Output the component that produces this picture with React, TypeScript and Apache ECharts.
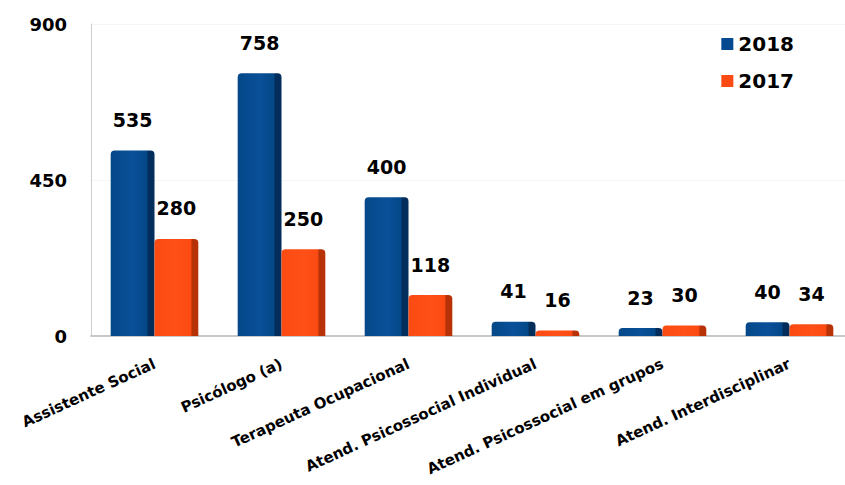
import React, { useEffect, useRef } from "react";
import * as echarts from "echarts";

const categories = [
  "Assistente Social",
  "Psicólogo (a)",
  "Terapeuta Ocupacional",
  "Atend. Psicossocial Individual",
  "Atend. Psicossocial em grupos",
  "Atend. Interdisciplinar",
];
const values2018 = [535, 758, 400, 41, 23, 40];
const values2017 = [280, 250, 118, 16, 30, 34];
const yTicks = [0, 450, 900];

const FONT = "'DejaVu Sans', Verdana, sans-serif";

function barGradient(light: string, mid: string, dark: string) {
  return new echarts.graphic.LinearGradient(0, 0, 1, 0, [
    { offset: 0, color: mid },
    { offset: 0.5, color: light },
    { offset: 0.82, color: mid },
    { offset: 0.86, color: dark },
    { offset: 1, color: dark },
  ]);
}

export default function App() {
  const ref = useRef<HTMLDivElement>(null);
  useEffect(() => {
    if (!ref.current) return;
    const chart = echarts.init(ref.current, undefined, { renderer: "svg" });
    const label = {
      show: true,
      position: "top" as const,
      distance: 21,
      color: "#000",
      fontFamily: FONT,
      fontWeight: "bold" as const,
      fontSize: 19,
    };
    chart.setOption({
      animation: false,
      backgroundColor: "#fff",
      textStyle: { fontFamily: FONT },
      legend: {
        orient: "vertical",
        right: 46,
        top: 29,
        itemWidth: 12,
        itemHeight: 12,
        itemGap: 17,
        icon: "rect",
        textStyle: { fontFamily: FONT, fontWeight: "bold", fontSize: 20, color: "#000" },
        data: [
          { name: "2018", itemStyle: { color: "#054a91" } },
          { name: "2017", itemStyle: { color: "#fb4a12" } },
        ],
      },
      grid: {
        left: 91,
        right: -8,
        top: 24,
        bottom: 149,
        containLabel: false,
        outerBoundsMode: "none",
      },
      xAxis: {
        type: "category",
        data: categories,
        axisLine: { show: true, lineStyle: { color: "#c8c8c8", width: 2 } },
        axisTick: { show: false },
        axisLabel: {
          interval: 0,
          rotate: 24.5,
          margin: 27,
          color: "#000",
          fontFamily: FONT,
          fontWeight: "bold",
          fontSize: 15,
        },
      },
      yAxis: {
        type: "value",
        min: 0,
        max: 900,
        interval: 450,
        axisLine: { show: true, lineStyle: { color: "#cfcfcf", width: 1 } },
        axisTick: { show: false },
        splitLine: { show: true, lineStyle: { color: "#f6f6f6" } },
        axisLabel: {
          margin: 24,
          color: "#000",
          fontFamily: FONT,
          fontWeight: "bold",
          fontSize: 18,
          formatter: (v: number) => (yTicks.includes(v) ? String(v) : ""),
        },
      },
      series: [
        {
          name: "2018",
          type: "bar",
          data: values2018,
          barGap: "0%",
          barCategoryGap: "31%",
          color: "#054a91",
          itemStyle: {
            color: barGradient("#0a5099", "#044888", "#032e5c"),
            borderRadius: [4, 4, 0, 0],
          },
          label,
        },
        {
          name: "2017",
          type: "bar",
          data: values2017,
          color: "#fb4a12",
          itemStyle: {
            color: barGradient("#ff5018", "#fb4a12", "#b83208"),
            borderRadius: [4, 4, 0, 0],
          },
          label,
        },
      ],
    });
    return () => chart.dispose();
  }, []);
  return <div ref={ref} style={{ width: 845, height: 485, position: "absolute", left: 0, top: 0 }} />;
}
